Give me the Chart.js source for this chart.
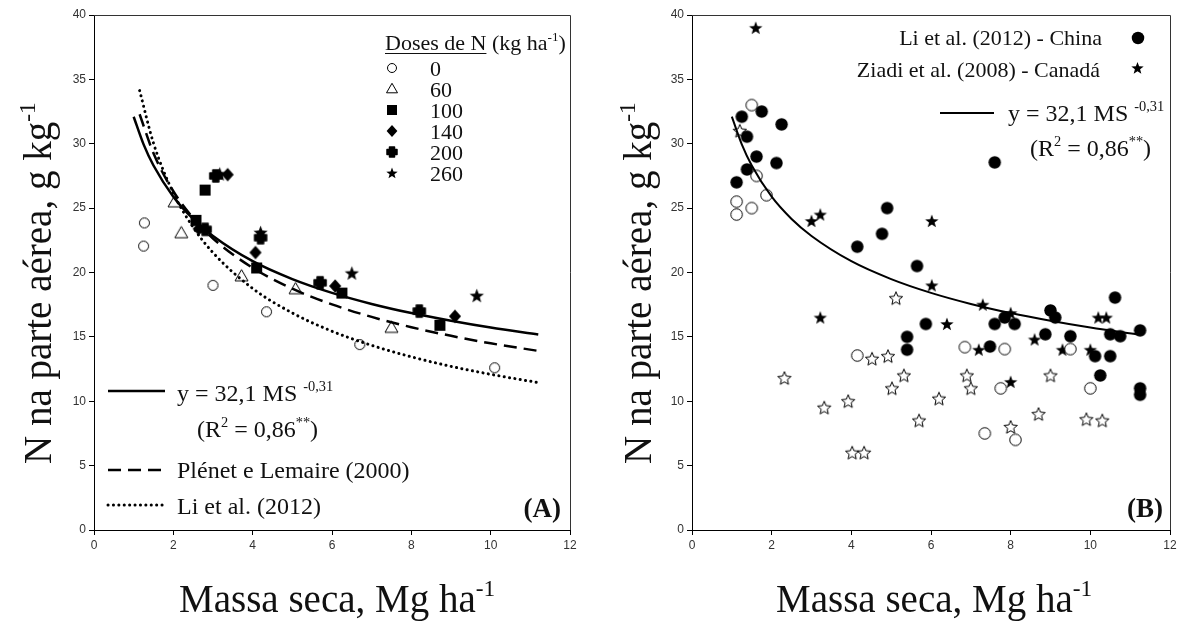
<!DOCTYPE html>
<html><head><meta charset="utf-8">
<script src="https://cdn.jsdelivr.net/npm/chart.js@4.4.0/dist/chart.umd.min.js"></script>
<style>
html,body{margin:0;padding:0;background:#fff;}
#wrap{position:relative;width:1189px;height:630px;overflow:hidden;background:#fff;}
.pane{position:absolute;top:0;height:630px;}
</style></head><body>
<div id="wrap">
<div class="pane" style="left:0;width:595px"><canvas id="cA" width="595" height="630"></canvas></div>
<div class="pane" style="left:595px;width:594px"><canvas id="cB" width="594" height="630"></canvas></div>
</div>
<script>
// ---------- Panel A data (Massa seca, Mg/ha ; N, g/kg) ----------
const dose0X   = [1.27, 1.25, 3.0, 4.35, 6.7, 10.1];
const dose0Y   = [23.85, 22.05, 19.0, 16.95, 14.4, 12.6];
const dose60X  = [2.03, 2.2, 3.72, 5.08, 7.5];
const dose60Y  = [25.45, 23.05, 19.7, 18.7, 15.7];
const dose100X = [2.8, 2.57, 4.1, 6.25, 8.72];
const dose100Y = [26.4, 24.05, 20.35, 18.4, 15.9];
const dose140X = [3.37, 2.64, 4.07, 6.08, 9.1];
const dose140Y = [27.6, 23.4, 21.55, 18.95, 16.6];
const dose200X = [3.07, 2.8, 4.2, 5.7, 8.2];
const dose200Y = [27.5, 23.35, 22.7, 19.2, 17.0];
const dose260X = [3.17, 4.2, 6.5, 9.65];
const dose260Y = [27.65, 23.1, 19.95, 18.2];
const doseLabels = ['0', '60', '100', '140', '200', '260'];

// curves
const fitX     = [1.0, 1.25, 1.5, 2, 2.5, 3, 4, 5, 6, 7, 8, 9, 10, 11.2];
const fitY     = [32.1, 29.95, 28.31, 25.89, 24.16, 22.84, 20.88, 19.49, 18.42, 17.56, 16.85, 16.25, 15.72, 15.18];
const plenetX  = [1.15, 1.5, 2, 2.5, 3, 4, 5, 6, 7, 8, 9, 10, 11.2];
const plenetY  = [32.29, 29.26, 26.31, 24.23, 22.64, 20.36, 18.74, 17.52, 16.55, 15.75, 15.08, 14.50, 13.91];
const liCurveX = [1.15, 1.5, 2, 2.5, 3, 4, 5, 6, 7, 8, 9, 10, 11.2];
const liCurveY = [34.13, 30.04, 26.17, 23.51, 21.54, 18.76, 16.86, 15.44, 14.34, 13.45, 12.71, 12.09, 11.45];

// ---------- Panel B data ----------
const chinaX = [1.12, 1.25, 1.38, 1.38, 1.62, 1.75, 2.12, 2.25, 4.15, 4.77, 4.9, 5.4, 5.4, 5.65, 5.87, 7.48, 7.6, 7.6, 7.85, 8.1, 8.87, 9.0, 9.12, 9.5, 10.12, 10.25, 10.5, 10.5, 10.62, 10.75, 11.25, 11.25, 11.25];
const chinaY = [27.0, 32.1, 30.55, 28.0, 29.0, 32.5, 28.5, 31.5, 22.0, 23.0, 25.0, 15.0, 14.0, 20.5, 16.0, 14.25, 16.0, 28.55, 16.5, 16.0, 15.2, 17.05, 16.5, 15.05, 13.5, 12.0, 15.2, 13.5, 18.05, 15.05, 15.5, 11.0, 10.5];
const chinaOpenX = [1.12, 1.12, 1.5, 1.5, 1.62, 1.87, 4.15, 6.85, 7.35, 7.75, 7.85, 8.12, 9.5, 10.0];
const chinaOpenY = [25.5, 24.5, 33.0, 25.0, 27.5, 26.0, 13.55, 14.2, 7.5, 11.0, 14.05, 7.0, 14.05, 11.0];
const canadaX = [1.6, 3.0, 3.22, 3.22, 6.02, 6.02, 6.4, 7.2, 7.3, 8.0, 8.0, 8.6, 9.3, 10.0, 10.2, 10.4];
const canadaY = [39.0, 24.0, 24.5, 16.5, 24.0, 19.0, 16.0, 14.0, 17.5, 16.85, 11.5, 14.8, 14.0, 14.0, 16.5, 16.5];
const canadaOpenX = [1.2, 2.32, 3.32, 3.92, 4.02, 4.32, 4.52, 4.92, 5.02, 5.12, 5.32, 5.7, 6.2, 6.9, 7.0, 8.0, 8.7, 9.0, 9.9, 10.3];
const canadaOpenY = [31.0, 11.8, 9.5, 10.0, 6.0, 6.0, 13.3, 13.5, 11.0, 18.0, 12.0, 8.5, 10.2, 12.0, 11.0, 8.0, 9.0, 12.0, 8.6, 8.5];

// ---------- helpers ----------
const SERIF = '"Liberation Serif", "Times New Roman", serif';
const SANS = '"Liberation Sans", Arial, sans-serif';
const pts = (xs, ys) => xs.map((x, i) => ({x: x, y: ys[i]}));

function starPath(g, cx, cy, R, ri) {
  for (let i = 0; i < 10; i++) {
    const a = -Math.PI / 2 + i * Math.PI / 5;
    const rr = i % 2 ? ri : R;
    const px = cx + rr * Math.cos(a), py = cy + rr * Math.sin(a);
    if (i) g.lineTo(px, py); else g.moveTo(px, py);
  }
  g.closePath();
}
function drawMarker(g, type, cx, cy, s) {
  const r = s / 2;
  g.save();
  g.lineWidth = 1; g.strokeStyle = '#000'; g.fillStyle = '#000';
  g.beginPath();
  switch (type) {
    case 'oc': g.arc(cx, cy, r - 0.5, 0, 2 * Math.PI); g.fillStyle = '#fff'; g.fill(); g.stroke(); break;
    case 'fc': g.arc(cx, cy, r, 0, 2 * Math.PI); g.fill(); break;
    case 'ot': {
      const h = s * 0.866;
      g.moveTo(cx, cy - h * 0.6); g.lineTo(cx + r, cy + h * 0.4); g.lineTo(cx - r, cy + h * 0.4); g.closePath();
      g.fillStyle = '#fff'; g.fill(); g.stroke(); break;
    }
    case 'fs': g.rect(cx - r, cy - r, s, s); g.fill(); break;
    case 'fd': g.moveTo(cx, cy - r); g.lineTo(cx + r * 0.9, cy); g.lineTo(cx, cy + r); g.lineTo(cx - r * 0.9, cy); g.closePath(); g.fill(); break;
    case 'fp': {
      const a = r * 0.5;
      g.moveTo(cx - a, cy - r); g.lineTo(cx + a, cy - r); g.lineTo(cx + a, cy - a); g.lineTo(cx + r, cy - a);
      g.lineTo(cx + r, cy + a); g.lineTo(cx + a, cy + a); g.lineTo(cx + a, cy + r); g.lineTo(cx - a, cy + r);
      g.lineTo(cx - a, cy + a); g.lineTo(cx - r, cy + a); g.lineTo(cx - r, cy - a); g.lineTo(cx - a, cy - a); g.closePath();
      g.fill(); g.lineJoin = 'round'; g.lineWidth = 1.5; g.stroke(); break;
    }
    case 'fst': starPath(g, cx, cy + r * 0.08, r, r * 0.42); g.fill(); break;
    case 'ost': starPath(g, cx, cy + r * 0.08, r, r * 0.45); g.fillStyle = '#fff'; g.fill(); g.stroke(); break;
  }
  g.restore();
}
function marker(type, s) {
  const W = Math.ceil(s + 4);
  const c = document.createElement('canvas');
  c.width = W; c.height = W;
  drawMarker(c.getContext('2d'), type, W / 2, W / 2, s);
  return c;
}
function rich(ctx, x, y, parts, size, family, weight, align) {
  let total = 0;
  const ws = parts.map(p => {
    const s = p[1] ? size * 0.6 : size;
    ctx.font = (weight || 'normal') + ' ' + s + 'px ' + family;
    const w = ctx.measureText(p[0]).width; total += w; return w;
  });
  let cx = align === 'right' ? x - total : (align === 'center' ? x - total / 2 : x);
  ctx.textAlign = 'left'; ctx.textBaseline = 'alphabetic';
  parts.forEach((p, i) => {
    const s = p[1] ? size * 0.6 : size;
    ctx.font = (weight || 'normal') + ' ' + s + 'px ' + family;
    ctx.fillText(p[0], cx, p[1] ? y - size * 0.42 : y);
    cx += ws[i];
  });
  return total;
}
function scalesCfg(yW) {
  const tickFont = {family: SANS, size: 12};
  const grid = {display: true, drawOnChartArea: false, drawTicks: true, tickLength: 5, tickColor: '#000', color: '#000'};
  return {
    x: {type: 'linear', min: 0, max: 12,
        ticks: {stepSize: 2, font: tickFont, color: '#333', padding: 3, maxRotation: 0, autoSkip: false},
        grid: grid, border: {display: true, color: '#000', width: 1},
        afterFit: s => { s.height = 100; }},
    y: {type: 'linear', min: 0, max: 40,
        ticks: {stepSize: 5, font: tickFont, color: '#333', padding: 3, autoSkip: false},
        grid: grid, border: {display: true, color: '#000', width: 1},
        afterFit: s => { s.width = yW; }}
  };
}
function lineDs(xs, ys, dash, width, cap) {
  return {data: pts(xs, ys), showLine: true, pointRadius: 0, borderColor: '#000', borderWidth: width,
          borderDash: dash, borderCapStyle: cap || 'butt', cubicInterpolationMode: 'monotone', fill: false};
}
function scatDs(xs, ys, img) {
  return {data: pts(xs, ys), showLine: false, pointStyle: img, pointRadius: 6, pointHoverRadius: 6,
          backgroundColor: '#000', borderColor: '#000'};
}
function boxAndTitles(chart, off) {
  const ctx = chart.ctx, a = chart.chartArea;
  ctx.save();
  ctx.strokeStyle = '#333'; ctx.lineWidth = 1;
  ctx.beginPath();
  ctx.moveTo(a.left, a.top + 0.5); ctx.lineTo(a.right + 0.5, a.top + 0.5); ctx.lineTo(a.right + 0.5, a.bottom);
  ctx.stroke();
  ctx.fillStyle = '#111';
  ctx.save();
  ctx.translate(off.yTitleX, 464);
  ctx.rotate(-Math.PI / 2);
  rich(ctx, 0, 0, [['N na parte aérea, g kg', 0], ['-1', 1]], 39, SERIF);
  ctx.restore();
  rich(ctx, off.xTitleX, 612, [['Massa seca, Mg ha', 0], ['-1', 1]], 39, SERIF);
  ctx.restore();
}

const noAnim = {animation: false, responsive: false, devicePixelRatio: 1, events: [],
  plugins: {legend: {display: false}, tooltip: {enabled: false}}};

// ---------- Panel A ----------
const mA = {oc: marker('oc', 11), ot: marker('ot', 13), fs: marker('fs', 11), fd: marker('fd', 13.5), fp: marker('fp', 12), fst: marker('fst', 15)};
new Chart(document.getElementById('cA'), {
  type: 'scatter',
  data: {datasets: [
    lineDs(fitX, fitY, [], 2.5),
    lineDs(plenetX, plenetY, [13, 7], 2.5),
    lineDs(liCurveX, liCurveY, [0.1, 5.3], 3, 'round'),
    scatDs(dose0X, dose0Y, mA.oc),
    scatDs(dose60X, dose60Y, mA.ot),
    scatDs(dose100X, dose100Y, mA.fs),
    scatDs(dose140X, dose140Y, mA.fd),
    scatDs(dose200X, dose200Y, mA.fp),
    scatDs(dose260X, dose260Y, mA.fst)
  ]},
  options: Object.assign({}, noAnim, {
    layout: {padding: {left: 0, right: 25, top: 15, bottom: 0}},
    scales: scalesCfg(94)
  }),
  plugins: [{id: 'decoA', afterDraw(chart) {
    const ctx = chart.ctx;
    boxAndTitles(chart, {yTitleX: 51, xTitleX: 179});
    ctx.save(); ctx.fillStyle = '#111'; ctx.strokeStyle = '#111';
    const w = rich(ctx, 385, 50, [['Doses de N', 0]], 22, SERIF);
    ctx.lineWidth = 1; ctx.beginPath(); ctx.moveTo(385, 53.5); ctx.lineTo(385 + w, 53.5); ctx.stroke();
    rich(ctx, 385 + w, 50, [[' (kg ha', 0], ['-1', 1], [')', 0]], 22, SERIF);
    const types = ['oc', 'ot', 'fs', 'fd', 'fp', 'fst'];
    const sizes = [10, 11, 10, 12, 10, 12];
    doseLabels.forEach((lab, i) => {
      const cy = 68 + i * 21;
      drawMarker(ctx, types[i], 392, cy, sizes[i]);
      ctx.fillStyle = '#111';
      rich(ctx, 430, cy + 7.5, [[lab, 0]], 22, SERIF);
    });
    ctx.lineWidth = 2.5; ctx.strokeStyle = '#000';
    ctx.beginPath(); ctx.setLineDash([]); ctx.moveTo(108, 391); ctx.lineTo(165, 391); ctx.stroke();
    ctx.beginPath(); ctx.setLineDash([13, 7]); ctx.moveTo(108, 470); ctx.lineTo(165, 470); ctx.stroke();
    ctx.lineWidth = 3; ctx.lineCap = 'round';
    ctx.beginPath(); ctx.setLineDash([0.1, 5.3]); ctx.moveTo(108, 505); ctx.lineTo(165, 505); ctx.stroke();
    ctx.setLineDash([]); ctx.lineCap = 'butt';
    rich(ctx, 177, 401, [['y = 32,1 MS ', 0], ['-0,31', 1]], 24, SERIF);
    rich(ctx, 197, 437, [['(R', 0], ['2', 1], [' = 0,86', 0], ['**', 1], [')', 0]], 24, SERIF);
    rich(ctx, 177, 478, [['Plénet e Lemaire (2000)', 0]], 24, SERIF);
    rich(ctx, 177, 514, [['Li et al. (2012)', 0]], 24, SERIF);
    rich(ctx, 561, 517, [['(A)', 0]], 27, SERIF, 'bold', 'right');
    ctx.restore();
  }}]
});

// ---------- Panel B ----------
const mB = {fc: marker('fc', 12.5), oc: marker('oc', 12.5), fst: marker('fst', 14), ost: marker('ost', 14)};
const OB = 595;
new Chart(document.getElementById('cB'), {
  type: 'scatter',
  data: {datasets: [
    lineDs(fitX, fitY, [], 2),
    scatDs(chinaX, chinaY, mB.fc),
    scatDs(chinaOpenX, chinaOpenY, mB.oc),
    scatDs(canadaX, canadaY, mB.fst),
    scatDs(canadaOpenX, canadaOpenY, mB.ost)
  ]},
  options: Object.assign({}, noAnim, {
    layout: {padding: {left: 0, right: 19, top: 15, bottom: 0}},
    scales: scalesCfg(97)
  }),
  plugins: [{id: 'decoB', afterDraw(chart) {
    const ctx = chart.ctx;
    boxAndTitles(chart, {yTitleX: 651 - OB, xTitleX: 776 - OB});
    ctx.save(); ctx.fillStyle = '#111';
    rich(ctx, 1102 - OB, 45, [['Li et al. (2012) - China', 0]], 22, SERIF, 'normal', 'right');
    rich(ctx, 1100 - OB, 77, [['Ziadi et al. (2008) - Canadá', 0]], 22, SERIF, 'normal', 'right');
    drawMarker(ctx, 'fc', 1138 - OB, 38, 12.5);
    drawMarker(ctx, 'fst', 1137.5 - OB, 68, 13);
    ctx.strokeStyle = '#000'; ctx.lineWidth = 2;
    ctx.beginPath(); ctx.moveTo(940 - OB, 113); ctx.lineTo(994 - OB, 113); ctx.stroke();
    ctx.fillStyle = '#111';
    rich(ctx, 1008 - OB, 121, [['y = 32,1 MS ', 0], ['-0,31', 1]], 24, SERIF);
    rich(ctx, 1030 - OB, 156, [['(R', 0], ['2', 1], [' = 0,86', 0], ['**', 1], [')', 0]], 24, SERIF);
    rich(ctx, 1163 - OB, 517, [['(B)', 0]], 27, SERIF, 'bold', 'right');
    ctx.restore();
  }}]
});
</script>
</body></html>
